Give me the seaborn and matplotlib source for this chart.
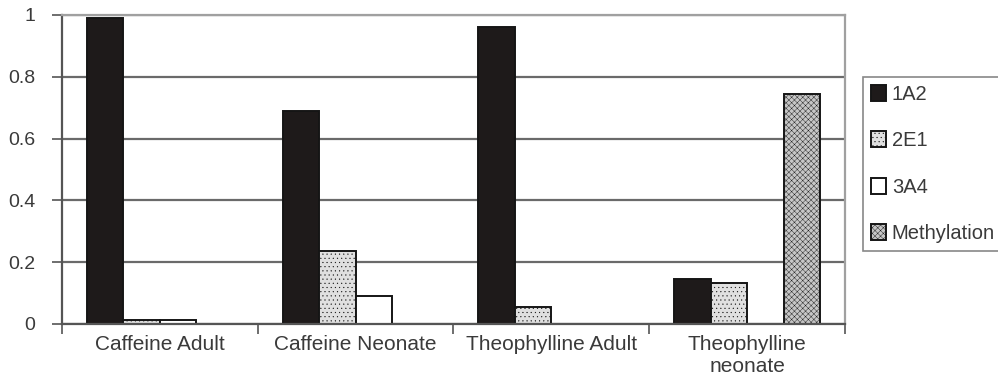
import matplotlib
matplotlib.use("Agg")
import matplotlib.pyplot as plt
from matplotlib.patches import Patch
import seaborn as sns
import pandas as pd

# Data
groups = ["Caffeine Adult", "Caffeine Neonate", "Theophylline Adult", "Theophylline\nneonate"]
enzymes = ["1A2", "2E1", "3A4", "Methylation"]
v_1a2 = [0.99, 0.69, 0.96, 0.146]
v_2e1 = [0.014, 0.235, 0.055, 0.133]
v_3a4 = [0.014, 0.09, 0.0, 0.0]
v_meth = [0.0, 0.0, 0.0, 0.743]

rows = []
for name, vals in zip(enzymes, [v_1a2, v_2e1, v_3a4, v_meth]):
    for g, v in zip(groups, vals):
        rows.append({"group": g, "enzyme": name, "value": v})
df = pd.DataFrame(rows)

colors = ["#1e1a1a", "#e0e0e0", "#ffffff", "#c6c6c6"]
hatches = [None, "....", None, "xxxxxx"]

sns.set_theme(style="white")
plt.rcParams["font.family"] = ["Liberation Sans", "DejaVu Sans"]
plt.rcParams["hatch.color"] = "#bcbcbc"
plt.rcParams["hatch.linewidth"] = 0.3

fig = plt.figure(figsize=(9.98, 3.78), dpi=100)
ax = fig.add_axes([0.0621, 0.1429, 0.7846, 0.8175])

sns.barplot(data=df, x="group", y="value", hue="enzyme", order=groups,
            hue_order=enzymes, palette=colors, width=0.745, saturation=1,
            edgecolor="#151515", linewidth=1.4, ax=ax, legend=False)

for cont, h in zip(ax.containers, hatches):
    for bar in cont:
        if h:
            bar.set_hatch(h)

ax.set_ylim(0, 1)
ax.set_xlim(-0.5, 3.5)
ax.set_yticks([0, 0.2, 0.4, 0.6, 0.8, 1.0])
ax.set_yticklabels(["0", "0.2", "0.4", "0.6", "0.8", "1"])
ax.yaxis.grid(True, color="#6a6a6a", linewidth=1.6)
ax.set_axisbelow(True)
ax.set_xlabel("")
ax.set_ylabel("")
ax.tick_params(axis="x", labelsize=15, colors="#3a3a3a", length=0, pad=8)
ax.tick_params(axis="y", labelsize=14, colors="#3a3a3a", left=True, length=7,
               width=1.2, color="#555555", pad=12)
ax.set_xticks([-0.5, 0.5, 1.5, 2.5, 3.5], minor=True)
ax.tick_params(axis="x", which="minor", bottom=True, length=7, width=1.2, color="#555555")

for side in ["top", "right"]:
    ax.spines[side].set_color("#a0a0a0")
    ax.spines[side].set_linewidth(1.6)
for side in ["left", "bottom"]:
    ax.spines[side].set_color("#555555")
    ax.spines[side].set_linewidth(1.6)

# legend at the right edge
handles = [Patch(facecolor=c, edgecolor="#151515", hatch=h, linewidth=1.4)
           for c, h in zip(colors, hatches)]
leg = fig.legend(handles, enzymes, loc="upper left", bbox_to_anchor=(0.865, 0.796),
                 fontsize=14.5, frameon=True, fancybox=False, handlelength=0.72,
                 handleheight=0.85, handletextpad=0.3, labelspacing=1.35,
                 borderpad=0.4, borderaxespad=0)
leg.get_frame().set_edgecolor("#6a6a6a")
leg.get_frame().set_linewidth(1.2)
for t in leg.get_texts():
    t.set_color("#3a3a3a")

plt.savefig("out.png", dpi=100)
